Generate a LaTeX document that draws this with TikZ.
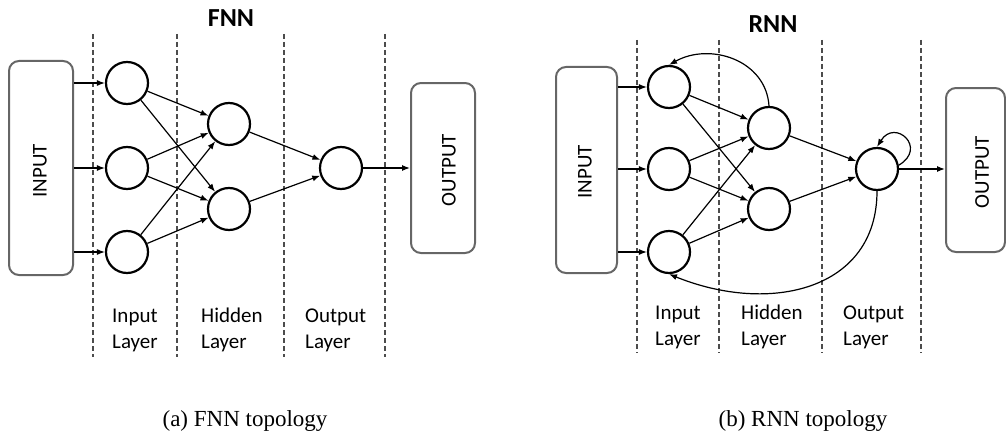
\documentclass[tikz,border=0pt]{standalone}
\usepackage{fontspec}
\setmainfont{Liberation Serif}
\newfontfamily\labelfont{Carlito}
\usetikzlibrary{arrows.meta}

\begin{document}
\begin{tikzpicture}[x=1pt, y=-1pt,
	neuron/.style={draw, circle, line width=2.2pt, minimum size=42pt, inner sep=0pt},
	iobox/.style={draw=black!60, rounded corners=10pt, line width=2pt},
	iotext/.style={font=\labelfont\fontsize{21}{25}\selectfont, rotate=90, inner sep=0pt},
	layerline/.style={draw=black!70, line width=1.8pt, dash pattern=on 5pt off 3pt},
	conn/.style={line width=1.2pt, -{Latex[length=8pt,width=6pt]}},
	lbl/.style={font=\labelfont\fontsize{21}{26}\selectfont, align=left, anchor=west, inner sep=0pt},
	title/.style={font=\labelfont\bfseries\fontsize{26}{30}\selectfont, inner sep=0pt},
	caption/.style={font=\fontsize{23}{26}\selectfont, inner sep=0pt}]
	
	\useasboundingbox (0,0) rectangle (1006,436);
	
	%% FNN
	\node[title] (ftitle) at (231,18) {FNN};
	\draw[layerline] (93,34) -- (93,357);
	\draw[layerline] (177,34) -- (177,357);
	\draw[layerline] (284,34) -- (284,357);
	\draw[layerline] (385,34) -- (385,357);
	
	\node[iobox, minimum width=64pt, minimum height=214pt] (finput) at (41,168) {};
	\node[iotext] (finputtxt) at (40,171) {INPUT};
	\node[iobox, minimum width=64pt, minimum height=170pt] (foutput) at (443,168) {};
	\node[iotext] (foutputtxt) at (449,170) {OUTPUT};
	
	\node[neuron] (fi1) at (127,83) {};
	\node[neuron] (fi2) at (127,168) {};
	\node[neuron] (fi3) at (127,252) {};
	\node[neuron] (fh1) at (229,124) {};
	\node[neuron] (fh2) at (229,209) {};
	\node[neuron] (fo) at (341,168) {};
	
	\foreach \i in {1,2,3} {
		\draw[conn] (finput.east |- fi\i) -- (fi\i);
		\foreach \h in {1,2}
			\draw[conn] (fi\i) -- (fh\h);
	}
	\draw[conn] (fh1) -- (fo);
	\draw[conn] (fh2) -- (fo);
	\draw[conn] (fo) -- (foutput.west |- fo);
	
	\node[lbl] (fin) at (112,330) {Input\\Layer};
	\node[lbl] (fhid) at (201,330) {Hidden\\Layer};
	\node[lbl] (fout) at (305,330) {Output\\Layer};
	\node[caption] (fcap) at (245,421) {(a) FNN topology};
	
	%% RNN
	\node[title] (rtitle) at (773,24) {RNN};
	\draw[layerline] (637,40) -- (637,353);
	\draw[layerline] (719,40) -- (719,353);
	\draw[layerline] (822,40) -- (822,353);
	\draw[layerline] (921,40) -- (921,353);
	
	\node[iobox, minimum width=61pt, minimum height=206pt] (rinput) at (586.5,170) {};
	\node[iotext] (rinputtxt) at (585,172) {INPUT};
	\node[iobox, minimum width=59pt, minimum height=164pt] (routput) at (975.5,170) {};
	\node[iotext] (routputtxt) at (982,172) {OUTPUT};
	
	\node[neuron] (ri1) at (669,87) {};
	\node[neuron] (ri2) at (669,169) {};
	\node[neuron] (ri3) at (669,252) {};
	\node[neuron] (rh1) at (769,128) {};
	\node[neuron] (rh2) at (769,209) {};
	\node[neuron] (ro) at (877,169) {};
	
	\foreach \i in {1,2,3} {
		\draw[conn] (rinput.east |- ri\i) -- (ri\i);
		\foreach \h in {1,2}
			\draw[conn] (ri\i) -- (rh\h);
	}
	\draw[conn] (rh1) -- (ro);
	\draw[conn] (rh2) -- (ro);
	\draw[conn] (ro) -- (routput.west |- ro);
	
	% recurrent links
	\draw[conn] (ro.10) .. controls (928,148) and (895,118) .. (ro.north);
	\draw[conn] (rh1.north) .. controls (766,60) and (710,42) .. (ri1.north);
	\draw[conn] (ro.south) .. controls (877,290) and (770,315) .. (ri3.south);
	
	\node[lbl] (rin) at (655,327) {Input\\Layer};
	\node[lbl] (rhid) at (741,327) {Hidden\\Layer};
	\node[lbl] (rout) at (843,327) {Output\\Layer};
	\node[caption] (rcap) at (803,421) {(b) RNN topology};
	
\end{tikzpicture}
\end{document}
